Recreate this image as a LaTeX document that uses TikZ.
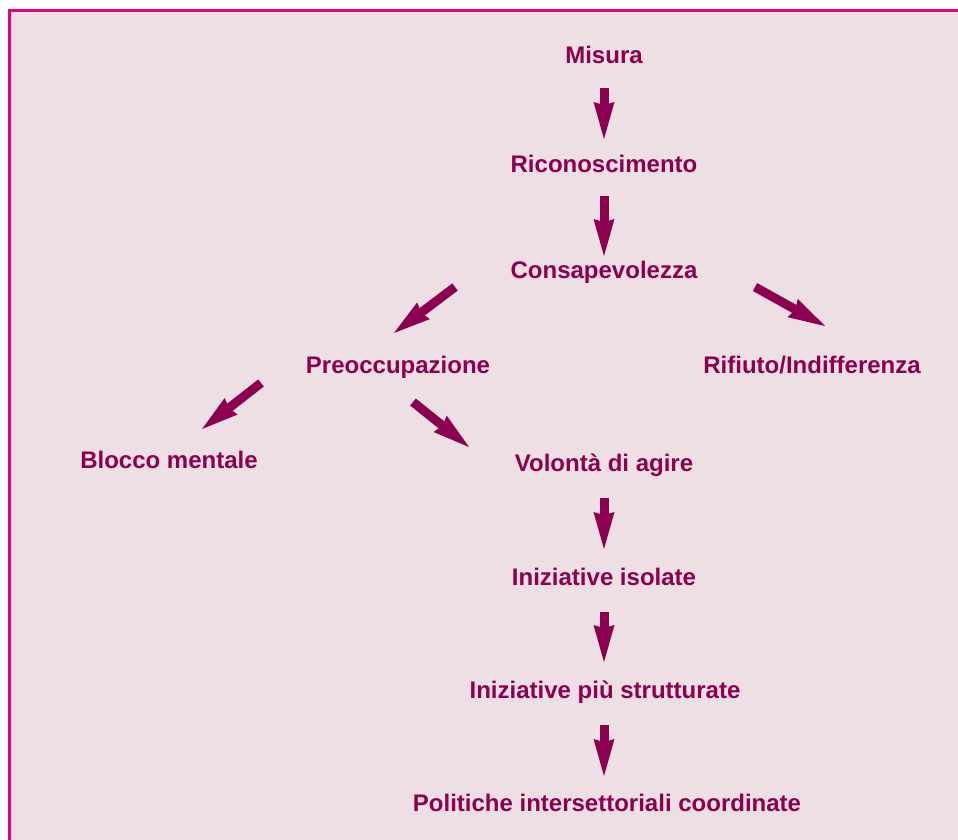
\documentclass[tikz,border=0pt]{standalone}
\usepackage{fontspec}
\setmainfont{Liberation Sans}
\usetikzlibrary{arrows.meta}
\definecolor{bgpink}{HTML}{EEDFE5}
\definecolor{framepink}{HTML}{E6007E}
\definecolor{wine}{HTML}{8C0050}
\tikzset{
  lbl/.style={anchor=base, text=wine, font=\fontsize{24}{28}\selectfont\bfseries, inner sep=0pt},
  bigarrow/.style={draw=wine, line width=9pt, -{Stealth[length=37pt,width=21pt,inset=3pt,line width=0pt]}}
}
\begin{document}
\begin{tikzpicture}[x=1pt,y=-1pt]
\useasboundingbox (0,0) rectangle (958,840);
\fill[white] (0,0) rectangle (958,840);
\fill[bgpink] (9.5,10.5) rectangle (958,840);
\draw[framepink, line width=2.6pt] (9.5,840) -- (9.5,10.5) -- (958,10.5);
% labels
\node[lbl] (misura) at (604,64) {Misura};
\node[lbl] (ricon) at (604,172) {Riconoscimento};
\node[lbl] (consap) at (604,278) {Consapevolezza};
\node[lbl] (preocc) at (398,373) {Preoccupazione};
\node[lbl] (rifiuto) at (812,373) {Rifiuto/Indifferenza};
\node[lbl] (blocco) at (169,468) {Blocco mentale};
\node[lbl] (volonta) at (604,471) {Volontà di agire};
\node[lbl] (isolate) at (604,585) {Iniziative isolate};
\node[lbl] (strutt) at (605,698) {Iniziative più strutturate};
\node[lbl] (politiche) at (607,811) {Politiche intersettoriali coordinate};
% arrow end points
\coordinate (a1s) at (604,88);  \coordinate (a1e) at (604,139);
\coordinate (a2s) at (604,196); \coordinate (a2e) at (604,256);
\coordinate (a3s) at (455,287); \coordinate (a3e) at (394,333);
\coordinate (a4s) at (755,287); \coordinate (a4e) at (825,326);
\coordinate (a5s) at (261,383); \coordinate (a5e) at (202,429);
\coordinate (a6s) at (413,402); \coordinate (a6e) at (469,447);
\coordinate (a7s) at (604,498); \coordinate (a7e) at (604,549);
\coordinate (a8s) at (604,612); \coordinate (a8e) at (604,662);
\coordinate (a9s) at (604,725); \coordinate (a9e) at (604,776);
\draw[bigarrow] (a1s) -- (a1e);
\draw[bigarrow] (a2s) -- (a2e);
\draw[bigarrow] (a3s) -- (a3e);
\draw[bigarrow] (a4s) -- (a4e);
\draw[bigarrow] (a5s) -- (a5e);
\draw[bigarrow] (a6s) -- (a6e);
\draw[bigarrow] (a7s) -- (a7e);
\draw[bigarrow] (a8s) -- (a8e);
\draw[bigarrow] (a9s) -- (a9e);
\end{tikzpicture}
\end{document}
